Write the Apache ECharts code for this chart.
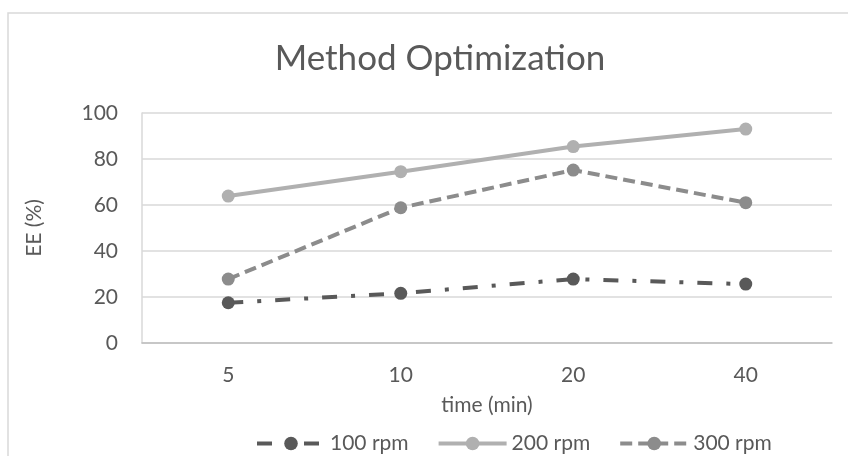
<!DOCTYPE html>
<html>
<head>
<meta charset="utf-8">
<script src="https://cdn.jsdelivr.net/npm/echarts@6/dist/echarts.min.js"></script>
<style>html,body{margin:0;padding:0;background:#fff}#c{width:848px;height:456px}</style>
</head>
<body>
<div id="c"></div>
<script>
var categories = ['5', '10', '20', '40'];
var seriesNames = ['100 rpm', '200 rpm', '300 rpm'];
var rpm100 = [17.5, 21.6, 27.8, 25.6];
var rpm200 = [63.9, 74.5, 85.4, 93.0];
var rpm300 = [27.8, 58.8, 75.2, 61.0];
var yTicks = { min: 0, max: 100, interval: 20 };

var FONT = 'Lato';
var TXT = '#595959';
var chart = echarts.init(document.getElementById('c'), null, { renderer: 'canvas' });
function mk(name, data, color, dash) {
  return {
    name: name, type: 'line', data: data,
    symbol: 'circle', symbolSize: 13,
    itemStyle: { color: color },
    lineStyle: { color: color, width: 4, type: dash },
    emphasis: { disabled: true },
    animation: false
  };
}
chart.setOption({
  animation: false,
  backgroundColor: '#fff',
  textStyle: { fontFamily: FONT },
  graphic: [{
    type: 'rect', shape: { x: 8, y: 13, width: 860, height: 470 },
    style: { fill: 'none', stroke: '#d9d9d9', lineWidth: 1.5 }, silent: true, z: -1
  }],
  title: {
    text: 'Method Optimization', left: 435, top: 36, textAlign: 'center',
    textStyle: { fontFamily: FONT, fontSize: 35, fontWeight: 'normal', color: TXT }
  },
  legend: {
    data: seriesNames, left: 250, top: 428, itemWidth: 68, itemHeight: 17, itemGap: 28,
    lineStyle: { width: 4 },
    textStyle: { fontFamily: FONT, fontSize: 21, color: TXT }
  },
  grid: { left: 142, right: 16, top: 113, bottom: 113 },
  xAxis: {
    type: 'category', data: categories, boundaryGap: true,
    name: 'time (min)', nameLocation: 'middle', nameGap: 52,
    nameTextStyle: { fontFamily: FONT, fontSize: 21, color: TXT },
    axisLine: { lineStyle: { color: '#bfbfbf', width: 1.5 } },
    axisTick: { show: false },
    axisLabel: { fontFamily: FONT, fontSize: 21, color: TXT, margin: 22 }
  },
  yAxis: {
    type: 'value', min: yTicks.min, max: yTicks.max, interval: yTicks.interval,
    name: 'EE (%)', nameLocation: 'middle', nameGap: 97, nameRotate: 90,
    nameTextStyle: { fontFamily: FONT, fontSize: 21, color: TXT },
    axisLine: { show: true, lineStyle: { color: '#d9d9d9', width: 1.5 } },
    axisTick: { show: false },
    splitLine: { lineStyle: { color: '#d9d9d9', width: 1.5 } },
    axisLabel: { fontFamily: FONT, fontSize: 21, color: TXT, margin: 24 }
  },
  series: [
    mk(seriesNames[0], rpm100, '#595959', [15, 14, 4, 14]),
    mk(seriesNames[1], rpm200, '#b0b0b0', 'solid'),
    mk(seriesNames[2], rpm300, '#8c8c8c', [12, 6])
  ]
});
</script>
</body>
</html>
